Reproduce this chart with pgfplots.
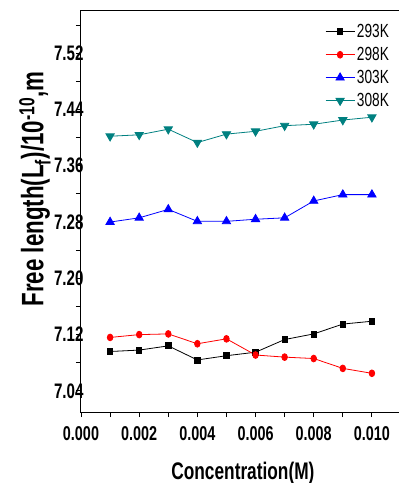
\documentclass[border=0pt]{standalone}
\usepackage{pgfplots}
\pgfplotsset{compat=1.18}
\usepackage{fontspec}
\setmainfont{Liberation Sans}
\newfontfamily\cond[FakeStretch=0.72]{Liberation Sans}
\definecolor{myteal}{RGB}{0,128,128}
\begin{document}
\begin{tikzpicture}
\begin{axis}[
  at={(0,0)}, anchor=south west,
  scale only axis, width=320bp, height=401bp,
  xmin=0, xmax=0.011, ymin=7.01, ymax=7.58,
  xtick={0,0.002,0.004,0.006,0.008,0.010},
  minor xtick={0.001,0.003,0.005,0.007,0.009},
  ytick={7.04,7.12,7.20,7.28,7.36,7.44,7.52},
  minor ytick={7.08,7.16,7.24,7.32,7.40,7.48,7.56},
  xtick pos=left, ytick pos=left,
  tick align=outside, major tick length=5bp, minor tick length=5bp,
  every tick/.style={black, line width=0.9bp},
  axis line style={line width=1bp},
  scaled x ticks=false, scaled y ticks=false,
  /pgf/number format/assume math mode=true,
  xticklabel={\pgfmathprintnumber[fixed,fixed zerofill,precision=3]{\tick}},
  yticklabel={\pgfmathprintnumber[fixed,fixed zerofill,precision=2]{\tick}},
  xticklabel style={font=\cond\bfseries\fontsize{20bp}{20bp}\selectfont, yshift=-6bp},
  yticklabel style={font=\cond\bfseries\fontsize{21bp}{21bp}\selectfont, xshift=11bp},
  xlabel={Concentration(M)},
  xlabel style={at={(rel axis cs:0.506,0)}, anchor=base, yshift=-67bp,
    font=\cond\bfseries\fontsize{24bp}{24bp}\selectfont},
  ylabel={Free length(L\textsubscript{f})/10\textsuperscript{-10},m},
  ylabel style={at={(rel axis cs:-0.144,0.556)}, anchor=center,
    font=\cond\bfseries\fontsize{31bp}{31bp}\selectfont},
  legend style={at={(rel axis cs:0.7625,0.972)}, anchor=north west,
    draw=none, fill=none, font=\cond\fontsize{19bp}{19bp}\selectfont,
    row sep=4.2bp, inner sep=0pt},
  legend cell align=left,
  legend image code/.code={\draw[mark repeat=2,mark phase=2] plot coordinates {(0bp,0bp) (14.5bp,0bp) (29bp,0bp)};},
]
\addplot[black, line width=0.8bp, mark=square*, mark size=3bp, mark options={xscale=0.9}]
 coordinates {(0.001,7.096)(0.002,7.098)(0.003,7.104)(0.004,7.084)(0.005,7.090)(0.006,7.095)(0.007,7.113)(0.008,7.121)(0.009,7.135)(0.010,7.139)};
\addlegendentry{293K}
\addplot[red, line width=0.8bp, mark=*, mark size=3.4bp, mark options={xscale=0.82}]
 coordinates {(0.001,7.116)(0.002,7.120)(0.003,7.121)(0.004,7.107)(0.005,7.114)(0.006,7.091)(0.007,7.088)(0.008,7.086)(0.009,7.072)(0.010,7.065)};
\addlegendentry{298K}
\addplot[blue, line width=0.8bp, mark=triangle*, mark size=4.8bp]
 coordinates {(0.001,7.280)(0.002,7.286)(0.003,7.298)(0.004,7.281)(0.005,7.281)(0.006,7.284)(0.007,7.286)(0.008,7.310)(0.009,7.319)(0.010,7.319)};
\addlegendentry{303K}
\addplot[myteal, line width=0.8bp, mark=triangle*, mark size=4.8bp, mark options={rotate=180}]
 coordinates {(0.001,7.402)(0.002,7.404)(0.003,7.412)(0.004,7.393)(0.005,7.405)(0.006,7.409)(0.007,7.417)(0.008,7.419)(0.009,7.425)(0.010,7.429)};
\addlegendentry{308K}
\end{axis}
\pgfresetboundingbox
\useasboundingbox (-81bp,-71bp) rectangle (318bp,412bp);
\end{tikzpicture}
\end{document}
